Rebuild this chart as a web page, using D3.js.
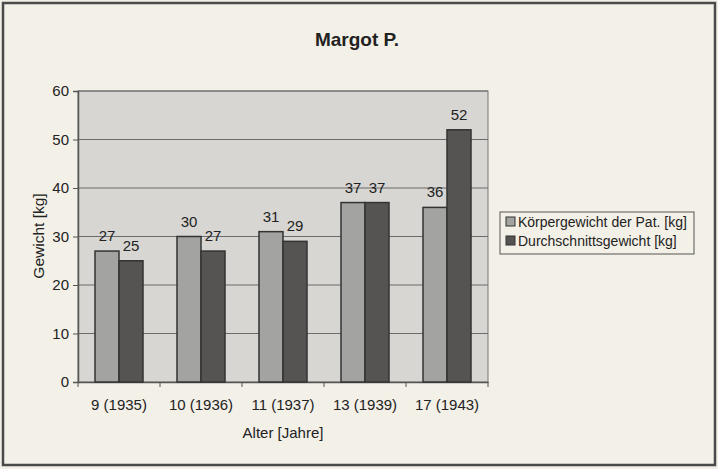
<!DOCTYPE html>
<html><head><meta charset="utf-8">
<script src="https://cdn.jsdelivr.net/npm/d3@7"></script>
<style>body{margin:0;background:#fff}svg{display:block}text{font-family:"Liberation Sans",Arial,sans-serif}</style>
</head><body>
<svg id="c" width="718" height="469"></svg>
<script>
const categories = ["9 (1935)","10 (1936)","11 (1937)","13 (1939)","17 (1943)"];
const seriesNames = ["Körpergewicht der Pat. [kg]","Durchschnittsgewicht [kg]"];
const patientWeight = [27,30,31,37,36];
const averageWeight = [25,27,29,37,52];
const yTicks = [0,10,20,30,40,50,60];
const colors = ["#a3a3a1","#555453"];

const svg = d3.select("#c");
svg.append("rect").attr("x",0).attr("y",0).attr("width",718).attr("height",469).attr("fill","#f3f0e7");
svg.append("rect").attr("x",3).attr("y",3).attr("width",712).attr("height",462).attr("fill","none").attr("stroke","#4a4a4a").attr("stroke-width",2.5);

const L=78,R=488,T=91,B=382;
const x = d3.scaleBand().domain(categories).range([L,R]).paddingInner(0).paddingOuter(0);
const y = d3.scaleLinear().domain([0,60]).range([B,T]);
const bw = 24;

svg.append("rect").attr("x",L).attr("y",T).attr("width",R-L).attr("height",B-T).attr("fill","#d7d6d2").attr("stroke","#777").attr("stroke-width",1);

svg.append("g").selectAll("line").data(yTicks.filter(d=>d>0)).join("line")
  .attr("x1",L).attr("x2",R).attr("y1",d=>y(d)).attr("y2",d=>y(d)).attr("stroke","#6b6b6b").attr("stroke-width",1);

const yAxis = svg.append("g").attr("transform",`translate(${L},0)`).call(d3.axisLeft(y).tickValues(yTicks).tickSize(5).tickPadding(4));
yAxis.select(".domain").attr("stroke","#555").attr("stroke-width",1.5);
yAxis.selectAll(".tick line").attr("stroke","#555");
yAxis.selectAll("text").attr("font-size",15).attr("fill","#222");

const xAxis = svg.append("g").attr("transform",`translate(0,${B})`).call(d3.axisBottom(x).tickSize(0).tickPadding(17));
xAxis.select(".domain").attr("stroke","#555").attr("stroke-width",1.5);
xAxis.selectAll("text").attr("font-size",15).attr("fill","#222");
svg.append("g").selectAll("line").data(d3.range(categories.length+1)).join("line")
  .attr("x1",i=>L+i*x.bandwidth()).attr("x2",i=>L+i*x.bandwidth()).attr("y1",B).attr("y2",B+5).attr("stroke","#555");

const series=[patientWeight,averageWeight];
series.forEach((vals,si)=>{
  const g=svg.append("g");
  g.selectAll("rect").data(vals).join("rect")
    .attr("x",(d,i)=>x(categories[i])+x.bandwidth()/2-bw+si*bw)
    .attr("y",d=>y(d)).attr("width",bw).attr("height",d=>B-y(d))
    .attr("fill",colors[si]).attr("stroke","#333").attr("stroke-width",1.5);
  g.selectAll("text").data(vals).join("text")
    .attr("x",(d,i)=>x(categories[i])+x.bandwidth()/2-bw+si*bw+bw/2)
    .attr("y",d=>y(d)-10).attr("text-anchor","middle").attr("font-size",15).attr("fill","#222").text(d=>d);
});

svg.append("text").attr("x",357).attr("y",46).attr("text-anchor","middle").attr("font-size",19).attr("font-weight","bold").attr("fill","#222").text("Margot P.");
svg.append("text").attr("transform","translate(44,236) rotate(-90)").attr("text-anchor","middle").attr("font-size",15.5).attr("fill","#222").text("Gewicht [kg]");
svg.append("text").attr("x",283).attr("y",438).attr("text-anchor","middle").attr("font-size",15).attr("fill","#222").text("Alter [Jahre]");

const lg=svg.append("g");
lg.append("rect").attr("x",500).attr("y",212).attr("width",194).attr("height",42).attr("fill","#f3f0e7").attr("stroke","#555").attr("stroke-width",1);
seriesNames.forEach((n,i)=>{
  lg.append("rect").attr("x",506).attr("y",217+i*19).attr("width",9).attr("height",9).attr("fill",colors[i]).attr("stroke","#333").attr("stroke-width",1);
  lg.append("text").attr("x",518).attr("y",227+i*19).attr("font-size",14).attr("fill","#222").text(n);
});
</script>
</body></html>
